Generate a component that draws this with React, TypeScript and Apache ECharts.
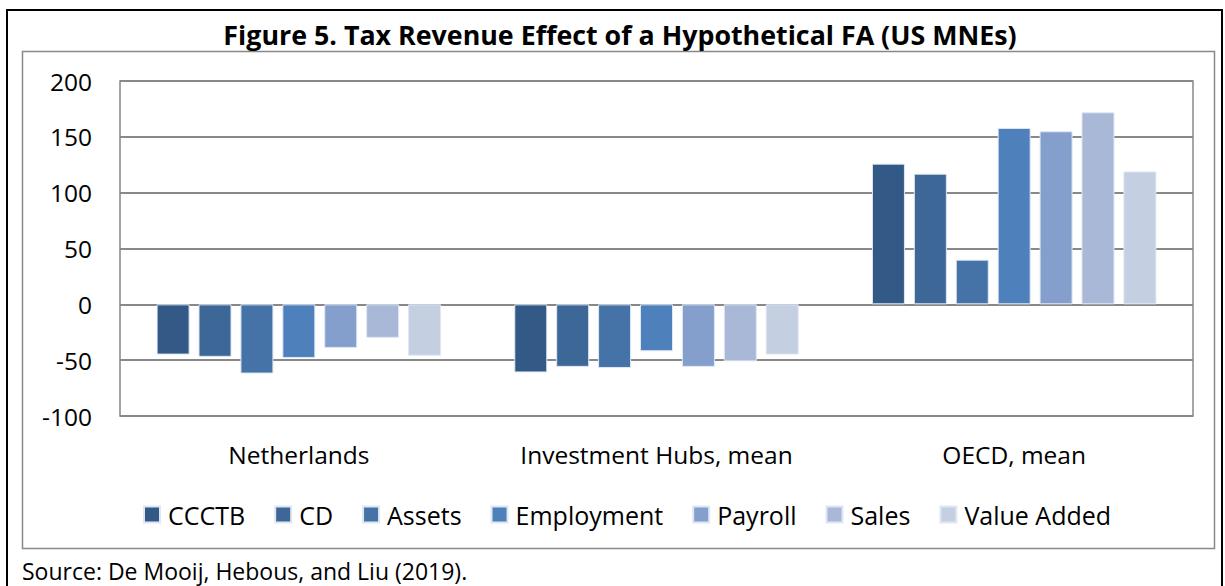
import React, { useEffect, useRef } from "react";
import * as echarts from "echarts";

const categories = ["Netherlands", "Investment Hubs, mean", "OECD, mean"];
const seriesNames = ["CCCTB", "CD", "Assets", "Employment", "Payroll", "Sales", "Value Added"];
const ccctb = [-45, -61, 126];
const cd = [-47, -56, 117];
const assets = [-62, -57, 40];
const employment = [-48, -42, 158];
const payroll = [-39, -56, 155];
const sales = [-30, -51, 172];
const valueAdded = [-46, -45, 119];
const seriesValues = [ccctb, cd, assets, employment, payroll, sales, valueAdded];
const colors = ["#335A87", "#3D6796", "#4573A7", "#4E80BC", "#849FCB", "#A9B8D6", "#C4CFE2"];
const titleText = "Figure 5. Tax Revenue Effect of a Hypothetical FA (US MNEs)";
const sourceText = "Source: De Mooij, Hebous, and Liu (2019).";

export default function App() {
  const ref = useRef<HTMLDivElement>(null);
  useEffect(() => {
    if (!ref.current) return;
    const chart = echarts.init(ref.current, null, { renderer: "svg" });
    const font = "'Open Sans', 'Noto Sans', sans-serif";
    chart.setOption({
      animation: false,
      backgroundColor: "#ffffff",
      textStyle: { fontFamily: font },
      graphic: [
        {
          type: "polyline",
          shape: { points: [[7, 600], [7, 10], [1222, 10], [1222, 600]] },
          style: { stroke: "#000", lineWidth: 2, fill: null },
          silent: true,
        },
        {
          type: "rect",
          shape: { x: 22.5, y: 51.5, width: 1192, height: 497 },
          style: { stroke: "#888", lineWidth: 1.5, fill: null },
          silent: true,
        },
        {
          type: "text",
          x: 620,
          y: 34,
          style: {
            text: titleText,
            fontSize: 26.8,
            fontWeight: "bold",
            fill: "#000",
            fontFamily: font,
            align: "center",
            verticalAlign: "middle",
          },
        },
        {
          type: "text",
          left: 22,
          top: 559,
          style: { text: sourceText, fontSize: 23, fill: "#000", fontFamily: font },
        },
      ],
      legend: {
        data: seriesNames,
        top: 497,
        left: 138,
        padding: 5,
        icon: "rect",
        itemWidth: 16,
        itemHeight: 16,
        itemGap: 29,
        textStyle: { fontSize: 25, color: "#000", fontFamily: font, padding: [0, 0, 0, 3] },
      },
      grid: {
        left: 120,
        right: 32,
        top: 81,
        height: 335,
        show: true,
        borderColor: "#888",
        borderWidth: 1.5,
        containLabel: false,
      },
      xAxis: {
        type: "category",
        data: categories,
        axisLine: { show: false },
        axisTick: { show: false },
        axisLabel: { fontSize: 24.5, color: "#000", margin: 26, fontFamily: font },
        position: "bottom",
      },
      yAxis: {
        type: "value",
        min: -100,
        max: 200,
        interval: 50,
        axisLine: { show: false },
        axisTick: { show: false },
        splitLine: { lineStyle: { color: "#888", width: 2 } },
        axisLabel: { fontSize: 24.5, color: "#000", margin: 28, fontFamily: font },
      },
      series: seriesNames.map((name, i) => ({
        name,
        type: "bar",
        data: seriesValues[i],
        barWidth: 33,
        barGap: "27%",
        itemStyle: { color: colors[i], borderColor: "#dfe7f3", borderWidth: 1 },
      })),
    });
    return () => chart.dispose();
  }, []);
  return (
    <div
      ref={ref}
      style={{ position: "fixed", left: 0, top: 0, width: 1225, height: 586 }}
    />
  );
}
